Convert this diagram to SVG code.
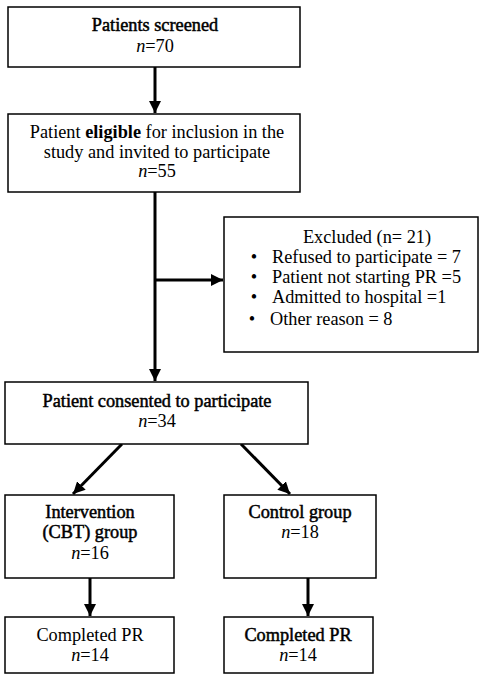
<svg xmlns="http://www.w3.org/2000/svg" width="487" height="680" viewBox="0 0 487 680" font-family="Liberation Serif, serif">
<style>
.box{fill:#fff;stroke:#000;stroke-width:1.5}
text{font-size:18.3px;fill:#000}
.c{text-anchor:middle}
.b{font-weight:bold}
.d{stroke:#000;stroke-width:0.5}
.conn{stroke:#000;stroke-width:3;fill:none}
</style>
<defs>
<marker id="ah" markerWidth="4" markerHeight="4" refX="4" refY="2" orient="auto" markerUnits="strokeWidth">
<path d="M0,0 L4,2 L0,4 Z" fill="#000"/>
</marker>
</defs>
<g id="connectors">
<line class="conn" x1="155" y1="67" x2="155" y2="113" marker-end="url(#ah)"/>
<line class="conn" x1="155" y1="192" x2="155" y2="381" marker-end="url(#ah)"/>
<line class="conn" x1="155" y1="280" x2="223" y2="280" marker-end="url(#ah)"/>
<line class="conn" x1="122" y1="444" x2="73" y2="494" marker-end="url(#ah)"/>
<line class="conn" x1="241" y1="444" x2="290" y2="494" marker-end="url(#ah)"/>
<line class="conn" x1="90" y1="578" x2="90" y2="616" marker-end="url(#ah)"/>
<line class="conn" x1="308" y1="578" x2="308" y2="616" marker-end="url(#ah)"/>
</g>
<g id="screened">
<rect class="box" x="8" y="7" width="292" height="60"/>
<text class="c d" x="155" y="31">Patients screened</text>
<text class="c" x="155" y="52"><tspan font-style="italic">n</tspan>=70</text>
</g>
<g id="eligible">
<rect class="box" x="8" y="114" width="292" height="78"/>
<text class="c" x="157" y="138">Patient <tspan class="b">eligible</tspan> for inclusion in the</text>
<text class="c" x="157" y="158">study and invited to participate</text>
<text class="c" x="157" y="177"><tspan font-style="italic">n</tspan>=55</text>
</g>
<g id="excluded">
<rect class="box" x="224" y="217" width="254" height="135"/>
<text class="c" x="367" y="243">Excluded (n= 21)</text>
<text class="c" x="254" y="263">•</text><text x="272" y="263">Refused to participate = 7</text>
<text class="c" x="254" y="283">•</text><text x="272" y="283">Patient not starting PR =5</text>
<text class="c" x="254" y="303">•</text><text x="272" y="303">Admitted to hospital =1</text>
<text class="c" x="252" y="325">•</text><text x="270" y="325" font-size="16.8">Other reason = 8</text>
</g>
<g id="consented">
<rect class="box" x="5" y="382" width="303" height="62"/>
<text class="c d" x="157" y="407">Patient consented to participate</text>
<text class="c" x="157" y="427"><tspan font-style="italic">n</tspan>=34</text>
</g>
<g id="intervention">
<rect class="box" x="5" y="495" width="169" height="83"/>
<text class="c d" x="90" y="518">Intervention</text>
<text class="c d" x="90" y="538">(CBT) group</text>
<text class="c" x="90" y="559"><tspan font-style="italic">n</tspan>=16</text>
</g>
<g id="control">
<rect class="box" x="224" y="495" width="152" height="83"/>
<text class="c d" x="300" y="518">Control group</text>
<text class="c" x="300" y="538"><tspan font-style="italic">n</tspan>=18</text>
</g>
<g id="completed-left">
<rect class="box" x="5" y="617" width="169" height="56"/>
<text class="c" x="90" y="641">Completed PR</text>
<text class="c" x="90" y="661"><tspan font-style="italic">n</tspan>=14</text>
</g>
<g id="completed-right">
<rect class="box" x="224" y="617" width="149" height="56"/>
<text class="c d" x="298" y="641">Completed PR</text>
<text class="c" x="298" y="661"><tspan font-style="italic">n</tspan>=14</text>
</g>
</svg>
